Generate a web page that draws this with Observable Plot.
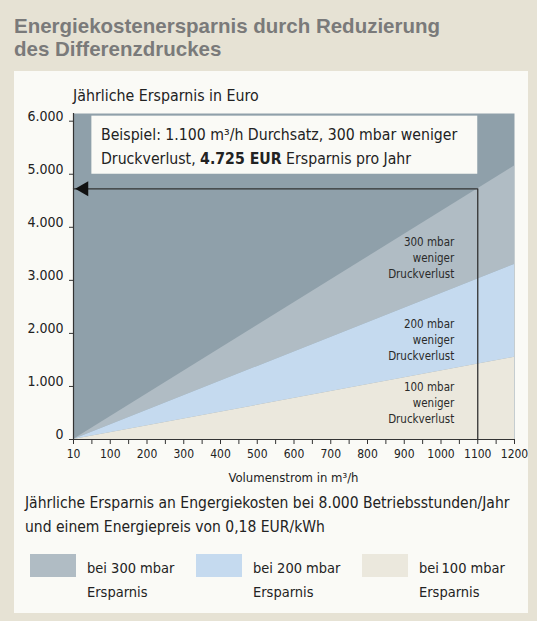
<!DOCTYPE html>
<html lang="de">
<head>
<meta charset="utf-8">
<script src="https://cdn.jsdelivr.net/npm/d3@7"></script>
<script src="https://cdn.jsdelivr.net/npm/@observablehq/plot@0.6"></script>
<style>
html,body{margin:0;padding:0;}
body{width:537px;height:621px;background:#e6e2d4;position:relative;overflow:hidden;
  font-family:"Liberation Sans Narrow","Arial Narrow","DejaVu Sans Condensed","Liberation Sans",sans-serif;color:#222;}
#title{position:absolute;left:14px;top:15px;font-family:"Liberation Sans",Arial,sans-serif;font-weight:bold;
  font-size:20.5px;line-height:22.5px;color:#7a7a7a;white-space:nowrap;}
#panel{position:absolute;left:14px;top:71px;width:514px;height:542px;background:#fafaf6;}
#chart{position:absolute;left:0;top:0;}
.abs{position:absolute;white-space:nowrap;}
#ytitle{left:59px;top:15px;font-size:15.8px;line-height:20px;}
#example{left:87px;top:52px;font-size:15.7px;line-height:23.5px;}
#xtitle{left:59px;width:441px;text-align:center;top:397px;font-size:13px;line-height:20px;}
#caption{left:11px;top:420px;font-size:15.5px;line-height:24px;}
.sw{position:absolute;width:46px;height:23px;}
.lg{position:absolute;font-size:14.5px;line-height:24px;white-space:nowrap;}
</style>
</head>
<body>
<div id="title">Energiekostenersparnis durch Reduzierung<br>des Differenzdruckes</div>
<div id="panel">
  <div id="chart"></div>
  <div id="ytitle" class="abs"></div>
  <div id="example" class="abs"></div>
  <div id="xtitle" class="abs"></div>
  <div id="caption" class="abs"></div>
  <div id="legend"></div>
</div>
<script>
// ---- data ----
const volume    = [0, 1200];          // m³/h (axis starts at the "10" tick)
const saving100 = [0, 1550];          // EUR/year, 100 mbar
const saving200 = [0, 3300];          // EUR/year, 200 mbar
const saving300 = [0, 5155];          // EUR/year, 300 mbar

const xTickValues = [0, 100, 200, 300, 400, 500, 600, 700, 800, 900, 1000, 1100, 1200];
const xTickLabels = ["10", "100", "200", "300", "400", "500", "600", "700", "800", "900", "1000", "1100", "1200"];
const xMinorTicks = [0, 50, 100, 150, 200, 250, 300, 350, 400, 450, 500, 550, 600, 650, 700, 750, 800, 850, 900, 950, 1000, 1050, 1100, 1150, 1200];
const yTickValues = [0, 1000, 2000, 3000, 4000, 5000, 6000];
const yTickLabels = ["0", "1.000", "2.000", "3.000", "4.000", "5.000", "6.000"];

const exampleVolume = 1100;
const exampleSaving = 4725;
const exampleVolumeLabel = "1.100";
const exampleSavingLabel = "4.725";

const bandNames  = ["300 mbar\nweniger\nDruckverlust", "200 mbar\nweniger\nDruckverlust", "100 mbar\nweniger\nDruckverlust"];
const bandLabelY = [3438, 1896, 702];
const bandLabelX = 1036;

const legendLabels = ["bei 300 mbar<br>Ersparnis", "bei 200 mbar<br>Ersparnis", "bei\u2009100 mbar<br>Ersparnis"];

const colorTop = "#8fa0aa", color300 = "#b0bcc4", color200 = "#c5daef", color100 = "#ebe8dd", panelColor = "#fafaf6";

// ---- derived tables ----
const rows = volume.map((v, i) => ({v, s100: saving100[i], s200: saving200[i], s300: saving300[i]}));
const labels = bandNames.map((t, i) => ({x: bandLabelX, y: bandLabelY[i], t}));
const exampleBox = [{x1: 50, x2: exampleVolume, y1: 5000, y2: 6095}];
const examplePath = [{x: exampleVolume, y: 0}, {x: exampleVolume, y: exampleSaving}, {x: 0, y: exampleSaving}];

const font = "'Liberation Sans Narrow','Arial Narrow','DejaVu Sans Condensed','Liberation Sans',sans-serif";

const chart = Plot.plot({
  width: 514, height: 420,
  marginLeft: 59, marginRight: 14, marginTop: 42, marginBottom: 52,
  x: {domain: [0, 1200], axis: null},
  y: {domain: [0, 6145], axis: null},
  style: {background: "transparent", fontFamily: font, color: "#222", overflow: "visible"},
  marks: [
    Plot.frame({fill: colorTop, stroke: "none"}),
    Plot.areaY(rows, {x: "v", y1: "s200", y2: "s300", fill: color300}),
    Plot.areaY(rows, {x: "v", y1: "s100", y2: "s200", fill: color200}),
    Plot.areaY(rows, {x: "v", y: "s100", fill: color100}),
    Plot.rect(exampleBox, {x1: "x1", x2: "x2", y1: "y1", y2: "y2", fill: panelColor}),
    Plot.text(labels, {x: "x", y: "y", text: "t", textAnchor: "end", fontSize: 11.5, lineHeight: 1.39, fill: "#2a2a2a"}),
    Plot.line(examplePath, {x: "x", y: "y", stroke: "#333", strokeWidth: 1.3}),
    Plot.dot([examplePath[2]], {x: "x", y: "y", symbol: "triangle", rotate: -90, r: 5.6, fill: "#111", stroke: "none", dx: 10.4}),
    Plot.ruleX([0], {stroke: "#333", strokeWidth: 1.2}),
    Plot.ruleY([0], {stroke: "#333", strokeWidth: 1.2}),
    Plot.axisX(xMinorTicks, {tickSize: 5, fill: "none", label: null, stroke: "#333"}),
    Plot.axisX(xTickValues, {tickSize: 0, tickPadding: 10, fontSize: 12, label: null,
      tickFormat: d => xTickLabels[xTickValues.indexOf(d)]}),
    Plot.axisY(yTickValues, {tickSize: 4, fill: "none", label: null, stroke: "#333"}),
    Plot.axisY(yTickValues, {tickSize: 0, tickPadding: 10, dy: -5, fontSize: 14, label: null,
      tickFormat: d => yTickLabels[yTickValues.indexOf(d)]})
  ]
});
document.getElementById("chart").appendChild(chart);

document.getElementById("ytitle").textContent = "Jährliche Ersparnis in Euro";
document.getElementById("xtitle").textContent = "Volumenstrom in m³/h";
document.getElementById("example").innerHTML =
  `Beispiel: ${exampleVolumeLabel} m³/h Durchsatz, 300 mbar weniger<br>Druckverlust, <b>${exampleSavingLabel} EUR</b> Ersparnis pro Jahr`;
document.getElementById("caption").innerHTML =
  "Jährliche Ersparnis an Engergiekosten bei 8.000 Betriebsstunden/Jahr<br>und einem Energiepreis von 0,18 EUR/kWh";

const legendColors = [color300, color200, color100];
const lg = document.getElementById("legend");
legendLabels.forEach((t, i) => {
  const sw = document.createElement("div");
  sw.className = "sw";
  sw.style.left = (16 + i * 166) + "px";
  sw.style.top = "483px";
  sw.style.background = legendColors[i];
  lg.appendChild(sw);
  const tx = document.createElement("div");
  tx.className = "lg";
  tx.style.left = (73 + i * 166) + "px";
  tx.style.top = "485px";
  tx.innerHTML = t;
  lg.appendChild(tx);
});
</script>
</body>
</html>
